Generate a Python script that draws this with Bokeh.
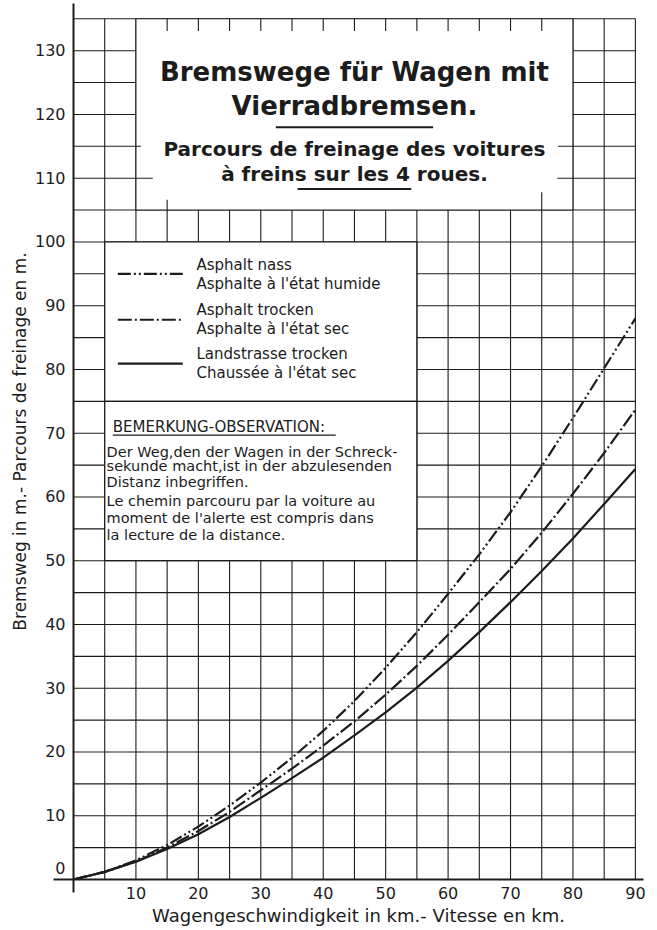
import numpy as np
from bokeh.plotting import figure
from bokeh.models import FixedTicker, Range1d, ColumnDataSource
from bokeh.embed import file_html
from bokeh.resources import INLINE
from bokeh.core.properties import value

# ---- data ----
speed = [0, 5, 10, 15, 20, 25, 30, 35, 40, 45, 50, 55, 60, 65, 70, 75, 80, 85, 90]
asphalt_wet = [0, 1.2, 3.0, 5.4, 8.3, 11.6, 15.2, 19.1, 23.3, 28.0, 33.2, 38.8, 44.8, 51.0, 57.6, 64.8, 72.4, 80.2, 88.0]
asphalt_dry = [0, 1.2, 2.8, 5.0, 7.6, 10.6, 14.0, 17.4, 21.0, 24.8, 29.0, 33.5, 38.4, 43.5, 48.7, 54.4, 60.5, 66.9, 73.7]
road_dry = [0, 1.2, 2.8, 4.8, 7.1, 9.8, 12.8, 15.9, 19.1, 22.6, 26.2, 30.1, 34.3, 38.8, 43.5, 48.4, 53.5, 58.9, 64.4]

x_tick_labels = [10, 20, 30, 40, 50, 60, 70, 80, 90]
y_tick_labels = [0, 10, 20, 30, 40, 50, 60, 70, 80, 90, 100, 110, 120, 130]

legend_lines = [
    ("Asphalt nass", "Asphalte à l'état humide"),
    ("Asphalt trocken", "Asphalte à l'état sec"),
    ("Landstrasse trocken", "Chaussée à l'état sec"),
]
note_title = "BEMERKUNG-OBSERVATION:"
note_lines = [
    "Der Weg,den der Wagen in der Schreck-",
    "sekunde macht,ist in der abzulesenden",
    "Distanz inbegriffen.",
    "Le chemin parcouru par la voiture au",
    "moment de l'alerte est compris dans",
    "la lecture de la distance.",
]
title_lines = ["Bremswege für Wagen mit", "Vierradbremsen."]
subtitle_lines = ["Parcours de freinage des voitures", "à freins sur les 4 roues."]

INK = "#1c1c1c"
FONT = "DejaVu Sans"
X_MAX, Y_MAX, STEP = 90, 135, 5

p = figure(width=657, height=930,
           x_range=Range1d(0, 91.3), y_range=Range1d(0, 137.4),
           output_backend="svg", toolbar_location=None,
           min_border_left=73, min_border_right=14, min_border_top=3, min_border_bottom=51)
p.grid.visible = False
p.outline_line_color = None
p.background_fill_color = "white"
p.border_fill_color = "white"

# ---- grid (5 km/h by 5 m squares) ----
gx = np.arange(STEP, X_MAX + 1, STEP)
gy = np.arange(STEP, Y_MAX + 1, STEP)
p.segment(x0=gx, x1=gx, y0=0, y1=Y_MAX, line_color=INK, line_width=1.1)
p.segment(x0=0, x1=X_MAX, y0=gy, y1=gy, line_color=INK, line_width=1.1)

# ---- axes ----
xa = p.xaxis[0]
xa.ticker = FixedTicker(ticks=x_tick_labels, minor_ticks=[0])
xa.axis_label = "Wagengeschwindigkeit in km.- Vitesse en km."
ya = p.yaxis[0]
ya.ticker = FixedTicker(ticks=y_tick_labels, minor_ticks=[0])
ya.major_label_overrides = {0: "0\n"}
ya.axis_label = "Bremsweg in m.- Parcours de freinage en m."
for ax in (xa, ya):
    ax.axis_line_color = INK
    ax.axis_line_width = 2
    ax.major_tick_out = 0
    ax.major_tick_in = 0
    ax.minor_tick_in = 0
    ax.minor_tick_line_color = INK
    ax.minor_tick_line_width = 2
    ax.major_label_text_font = FONT
    ax.major_label_text_font_size = "16px"
    ax.major_label_text_color = INK
    ax.axis_label_text_font = FONT
    ax.axis_label_text_font_style = "normal"
    ax.axis_label_text_color = INK
xa.minor_tick_out = 13
ya.minor_tick_out = 20
xa.major_label_standoff = -6
ya.major_label_standoff = -12
xa.axis_label_text_font_size = "18px"
ya.axis_label_text_font_size = "17px"
xa.axis_label_standoff = 3
ya.axis_label_standoff = 2

# ---- curves ----
src = ColumnDataSource(dict(v=speed, wet=asphalt_wet, dry=asphalt_dry, road=road_dry))
p.line("v", "wet", source=src, line_color=INK, line_width=2.2, line_dash="13 3 2 3 2 3")
p.line("v", "dry", source=src, line_color=INK, line_width=2.2, line_dash="14 3 2 3")
p.line("v", "road", source=src, line_color=INK, line_width=2.2)

# ---- title box ----
p.quad(left=10, right=80, bottom=105, top=135, fill_color="white", line_color=INK, line_width=1.1)
stub_x = np.arange(15, 80, STEP)
p.segment(x0=stub_x, x1=stub_x, y0=Y_MAX, y1=Y_MAX - 1.9, line_color=INK, line_width=1.1)
p.segment(x0=[10, 10, 80, 80], x1=[12.7, 10.8, 77.5, 77.6], y0=[110, 115, 110, 115], y1=[110, 115, 110, 115],
          line_color=INK, line_width=1.1)
p.segment(x0=[15, 75], x1=[15, 75], y0=[105, 105], y1=[106.6, 107.8], line_color=INK, line_width=1.1)

p.text(x=[45, 45], y=[126.6, 121.4], text=title_lines, text_font=value(FONT), text_font_style="bold",
       text_font_size="26px", text_align="center", text_baseline="middle", text_color=INK)
p.text(x=[45, 45], y=[114.6, 110.6], text=subtitle_lines, text_font=value(FONT), text_font_style="bold",
       text_font_size="20px", text_align="center", text_baseline="middle", text_color=INK)
p.segment(x0=[32.4, 35.9], x1=[57.6, 54.1], y0=[118.0, 108.3], y1=[118.0, 108.3], line_color=INK, line_width=2)

# ---- legend box ----
p.quad(left=5, right=55, bottom=75, top=100, fill_color="white", line_color=INK, line_width=1.3)
leg_y = [95.0, 87.8, 80.9]
dashes = ["13 3 2 3 2 3", "14 3 2 3", "solid"]
for yy, dsh in zip(leg_y, dashes):
    p.line(x=[7.1, 17.5], y=[yy, yy], line_color=INK, line_width=2.2, line_dash=dsh)
txt_y = [96.4, 93.4, 89.4, 86.4, 82.5, 79.5]
txt = [s for pair in legend_lines for s in pair]
p.text(x=[19.7] * 6, y=txt_y, text=txt, text_font=value(FONT), text_font_size="15px",
       text_align="left", text_baseline="middle", text_color=INK)

# ---- note box ----
p.quad(left=5, right=55, bottom=50, top=75, fill_color="white", line_color=INK, line_width=1.3)
p.text(x=[6.3], y=[71.0], text=[note_title], text_font=value(FONT), text_font_size="15px",
       text_align="left", text_baseline="middle", text_color=INK)
p.segment(x0=[6.3], x1=[42.0], y0=[69.7], y1=[69.7], line_color=INK, line_width=1.3)
p.text(x=[5.3] * 6, y=[67.1, 64.8, 62.4, 59.3, 56.7, 54.0], text=note_lines, text_font=value(FONT),
       text_font_size="14.5px", text_align="left", text_baseline="middle", text_color=INK)

open("out.html", "w").write(file_html(p, INLINE))
